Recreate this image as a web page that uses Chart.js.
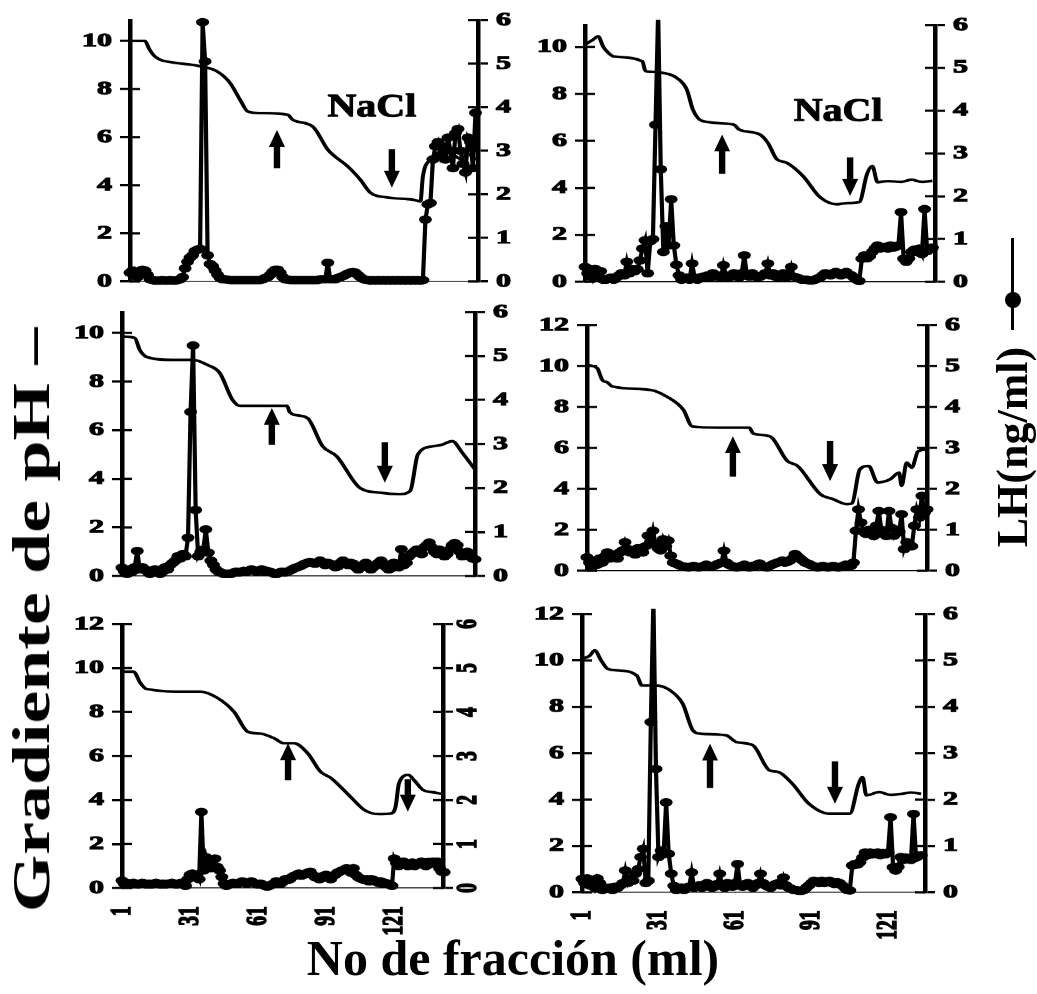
<!DOCTYPE html>
<html><head><meta charset="utf-8">
<script src="https://cdn.jsdelivr.net/npm/chart.js@4"></script>
<style>
html,body{margin:0;padding:0;background:#fff;width:1037px;height:994px;overflow:hidden;}
body{position:relative;}
canvas{position:absolute;transform-origin:0 0;}
.t{position:absolute;font-family:'Liberation Serif','Times New Roman',serif;font-weight:bold;color:#000;white-space:nowrap;line-height:1;}
</style></head><body>
<canvas id="c1"></canvas><canvas id="c2"></canvas><canvas id="c3"></canvas>
<canvas id="c4"></canvas><canvas id="c5"></canvas><canvas id="c6"></canvas>
<div class="t" style="left:32px;top:620px;font-size:52px;transform:translate(-50%,-50%) rotate(-90deg) scaleX(1.42);">Gradiente de pH –</div>
<div class="t" style="left:1013px;top:447px;font-size:44px;transform:translate(-50%,-50%) rotate(-90deg);">LH(ng/ml)</div>
<div style="position:absolute;left:1011px;top:238px;width:3px;height:92px;background:#000;"></div>
<div style="position:absolute;left:1005px;top:292px;width:16px;height:16px;border-radius:50%;background:#000;"></div>
<div class="t" style="left:513px;top:958px;font-size:50px;transform:translate(-50%,-50%);">No de fracción (ml)</div>
<script>
// ---------- data ----------
const fracTicks = [1, 31, 61, 91, 121];
const lhTicksMax = 6;

// pH gradient: [fraction, pH]
const ph1 = [[1,10.0],[7,10.0],[8.5,9.7],[10.5,9.4],[13,9.22],[16,9.14],[30,8.93],[36,8.72],[41,8.25],[45,7.55],[48,7.07],[53,7.0],[64,6.93],[66,6.72],[74,6.44],[80,5.48],[82,5.27],[88,4.78],[93,4.23],[97,3.69],[104,3.49],[114,3.40],[117,3.33],[118,4.37],[121,5.06],[124,5.2],[127,5.05],[130,5.25],[133,5.1],[136,5.3],[139,5.05]];
const ph2 = [[1,10.1],[4,10.3],[6,10.45],[8,10.0],[10,9.74],[12,9.59],[23,9.38],[24,9.0],[25,8.95],[30,8.91],[36,8.69],[40,8.18],[42.3,7.33],[46,6.84],[58,6.69],[60,6.48],[68,6.27],[71,5.92],[74.5,5.21],[78,5.08],[84.5,4.5],[91,3.6],[97.5,3.3],[101,3.35],[106,3.39],[109,4.6],[111,4.93],[113,4.24],[117,4.29],[122,4.25],[126,4.35],[130,4.25],[134,4.3]];
const ph3 = [[1,9.85],[6,9.8],[8,9.3],[11,9.0],[21,8.89],[29,8.89],[34.5,8.69],[39.5,8.35],[44.5,7.25],[47.5,7.0],[66,7.0],[67,6.75],[68.5,6.64],[74,6.5],[80,5.34],[85.5,4.93],[94.5,3.64],[102.5,3.43],[110.5,3.37],[114.5,3.5],[117.5,5.0],[123.5,5.34],[127,5.4],[131,5.55],[135,5.07],[140,4.38]];
const ph4 = [[1,10.05],[5,9.9],[7,9.32],[9,9.2],[11,9.0],[26,8.83],[32.5,8.5],[39,7.86],[42.5,7.05],[53,6.99],[65,6.99],[66.5,6.7],[73,6.57],[80,5.36],[84,5.12],[93,3.74],[98,3.5],[103.5,3.25],[105.5,3.3],[108.5,4.95],[112,5.12],[115.5,4.31],[120.5,4.47],[124,4.79],[125,4.15],[127,5.28],[129,5.04],[131.5,5.84],[135,5.92]];
const ph5 = [[1,9.83],[6.1,9.83],[9.1,9.32],[11.7,9.05],[30,8.92],[35.6,8.92],[43.2,8.63],[50.4,8.01],[56.5,7.1],[62.1,7.02],[68.2,6.8],[72.2,6.58],[76.8,6.58],[82.9,6.12],[88.5,5.29],[93.1,5.0],[101.7,4.15],[107.8,3.55],[114,3.36],[119.6,3.39],[121.6,3.7],[123.1,4.76],[127.2,5.14],[129.7,4.91],[133.8,4.45],[138.4,4.35],[142.4,4.27]];
const ph6 = [[1,10.07],[4,10.2],[6,10.43],[8.5,10.0],[11,9.64],[15,9.57],[22.5,9.35],[24.5,8.92],[30,8.92],[35.5,8.71],[40.5,8.13],[44.5,6.98],[47.5,6.84],[57.5,6.77],[61.5,6.48],[68,6.34],[74.5,5.26],[78,5.19],[83.5,4.68],[90,3.82],[98,3.39],[106,3.39],[109.5,4.68],[111,4.97],[112.5,4.18],[117.5,4.32],[122,4.2],[126.5,4.25],[130,4.3],[134,4.25]];

// LH (ng/ml) per fraction, starting at fraction 1
const lh1 = [0.2,0.25,0.15,0.1,0.2,0.27,0.25,0.15,
 0.05,0.03,0.02,0.02,0.02,0.03,0.02,0.02,0.03,0.02,0.02,0.03,0.05,0.1,
 0.3,0.45,0.55,0.6,0.7,0.73,0.75,
 5.95,5.05,0.6,0.4,0.35,0.25,0.15,
 0.08,0.05,0.05,0.04,0.03,0.03,0.03,0.03,0.03,0.03,0.03,0.03,0.03,0.03,0.03,0.03,0.03,0.05,0.08,0.1,0.15,
 0.22,0.27,0.27,0.2,0.1,
 0.05,0.04,0.03,0.03,0.03,0.03,0.03,0.03,0.03,0.03,0.03,0.03,0.03,0.03,0.05,0.05,
 0.05,0.43,0.05,
 0.05,0.05,0.08,0.1,0.12,0.15,0.18,0.2,0.22,0.2,0.15,0.1,0.06,0.04,
 0.03,0.02,0.03,0.02,0.03,0.02,0.03,0.02,0.03,0.02,0.03,0.02,0.03,0.02,0.03,0.02,0.03,0.02,0.03,0.02,0.03,0.02,0.03,
 1.42,1.77,1.8,2.8,3.1,3.2,2.9,3.1,2.8,3.3,3.0,2.6,3.4,3.5,3.0,2.7,2.5,3.3,3.2,2.6,3.87];
const lh2 = [0.35,0.2,0.3,0.1,0.3,0.2,0.25,0.05,
 0.05,0.08,0.1,0.05,0.1,0.15,0.2,0.15,
 0.47,0.2,0.3,0.25,0.3,0.5,0.78,0.97,0.2,0.95,1.0,
 3.67,6.3,2.63,0.7,1.3,0.85,1.93,0.85,0.4,0.15,
 0.05,0.08,0.1,0.05,
 0.43,0.1,
 0.05,0.08,0.12,0.1,0.15,0.1,0.2,0.12,0.15,0.1,
 0.39,
 0.15,0.1,0.12,0.2,0.15,0.1,0.2,
 0.62,
 0.15,0.12,0.2,0.15,0.1,0.12,0.15,0.2,
 0.43,
 0.15,0.2,0.12,0.1,0.15,0.2,0.1,0.15,
 0.35,
 0.12,0.1,0.08,0.05,0.05,0.05,0.03,0.03,0.05,0.08,0.1,0.15,0.2,0.18,0.15,0.2,0.23,0.2,0.15,0.2,0.23,0.18,0.15,0.1,0.05,0.02,
 0.54,0.62,0.55,0.6,0.7,0.78,0.85,0.78,0.8,0.82,0.78,0.85,0.8,0.82,0.85,1.63,0.54,0.47,0.55,0.7,0.75,0.7,0.78,0.65,1.7,0.72,0.78,0.8];
const lh3 = [0.19,0.1,0.05,0.15,0.1,0.2,
 0.57,0.15,
 0.2,0.15,0.1,0.05,0.08,0.15,0.1,0.05,0.1,0.2,0.15,0.25,
 0.3,0.35,0.45,0.4,0.5,0.45,
 0.87,3.73,5.24,1.5,0.45,0.55,0.6,1.06,0.53,0.35,0.25,
 0.15,0.1,0.08,0.05,0.05,0.05,0.05,0.08,0.1,0.08,0.1,0.12,0.1,0.12,0.15,0.12,0.1,0.12,0.15,0.1,0.12,0.1,0.08,
 0.05,0.05,0.08,0.1,0.08,0.1,0.12,0.15,0.18,0.2,0.22,0.25,0.28,0.3,0.32,0.3,0.28,0.3,0.35,0.3,0.25,0.3,0.28,0.25,0.2,
 0.22,0.3,0.35,0.3,0.25,0.3,0.28,0.2,0.15,0.2,0.25,0.3,0.2,0.15,0.2,0.25,0.3,0.35,0.28,0.2,0.15,0.18,0.3,0.28,0.2,
 0.61,
 0.25,0.3,0.45,0.5,0.55,0.6,0.55,0.5,0.65,0.7,0.76,0.65,0.55,0.5,0.6,0.55,0.45,0.5,0.6,0.7,0.75,0.7,0.55,0.45,0.5,0.55,0.45,0.4,0.38];
const lh4 = [0.33,0.2,0.1,0.25,0.15,0.3,0.2,0.35,
 0.45,0.3,0.35,0.4,0.3,0.45,0.5,
 0.7,0.53,
 0.45,0.5,0.4,0.55,0.5,0.45,0.6,0.86,
 0.7,0.98,0.65,0.55,0.5,0.77,0.6,0.74,
 0.37,0.2,0.18,
 0.15,0.12,0.1,0.1,0.08,0.1,0.12,0.1,0.08,0.1,0.12,0.15,0.12,0.1,0.12,0.15,0.18,0.2,
 0.49,
 0.2,0.15,0.12,0.1,0.08,0.1,0.12,0.15,0.1,0.08,0.12,0.1,0.15,0.18,0.12,0.1,0.08,0.12,0.15,0.18,0.2,0.22,0.25,0.2,0.22,0.25,0.3,
 0.41,
 0.35,0.3,0.25,0.2,0.18,0.15,0.12,0.1,0.08,0.1,0.12,0.1,0.08,0.1,0.12,0.1,0.08,0.1,0.12,0.15,0.1,0.12,0.2,
 0.98,1.5,1.18,0.95,0.9,1.0,0.95,0.85,1.1,1.46,1.0,0.9,0.85,1.46,1.05,0.86,1.0,0.95,1.38,0.53,0.7,0.65,0.6,1.1,1.5,1.3,1.83,1.42,1.5];
const lh5 = [0.17,0.1,0.12,0.1,0.08,0.12,0.1,0.08,0.1,0.12,0.1,0.08,0.1,0.08,0.1,0.12,0.1,0.08,0.1,0.08,0.1,0.1,0.12,0.1,0.08,0.1,0.12,0.1,0.05,0.2,0.3,0.33,0.25,
 0.3,0.2,1.73,0.4,0.7,0.5,0.45,0.64,0.67,0.48,0.4,0.25,0.1,
 0.05,0.08,0.1,0.12,0.1,0.1,0.12,0.15,0.12,0.1,0.12,0.15,0.12,0.1,0.08,0.1,0.08,0.05,0.03,0.05,0.08,0.1,0.15,0.12,0.1,0.15,0.2,0.18,0.2,0.25,0.28,0.3,0.33,0.28,0.3,
 0.33,0.35,0.37,0.3,0.25,0.25,0.2,0.22,0.28,0.3,0.25,0.2,0.28,0.3,0.35,0.37,0.4,0.42,0.45,0.4,0.35,
 0.45,0.3,0.25,0.22,0.2,0.18,0.2,0.15,0.2,0.18,0.15,0.12,0.15,0.1,0.12,0.1,0.08,0.05,
 0.67,0.56,0.5,0.55,0.6,0.56,0.5,0.55,0.58,0.5,0.55,0.55,0.6,0.55,0.5,0.59,0.55,0.6,0.56,0.6,0.45,0.37,0.36];
const lh6 = [0.29,0.2,0.3,0.15,0.25,0.1,0.3,0.2,
 0.05,0.1,0.08,0.1,0.05,0.12,0.1,0.15,0.2,
 0.47,0.2,0.3,0.25,0.4,0.5,0.76,0.94,0.2,0.25,
 3.67,6.3,2.66,0.76,0.9,0.83,1.94,0.83,0.4,0.14,
 0.05,0.08,0.1,0.05,0.1,0.12,
 0.43,
 0.1,0.12,0.15,0.1,0.12,0.2,0.15,0.1,0.12,0.18,
 0.4,
 0.15,0.1,0.2,0.15,0.12,0.2,
 0.61,
 0.15,0.12,0.18,0.2,0.15,0.1,0.15,0.2,
 0.4,
 0.2,0.15,0.12,0.1,0.15,0.18,0.2,0.15,
 0.32,
 0.15,0.1,0.08,0.05,0.05,0.03,0.03,0.05,0.1,0.15,0.2,0.25,0.22,0.2,0.25,0.2,0.22,0.25,0.2,0.18,0.22,0.2,0.15,0.1,0.05,0.04,
 0.58,0.61,0.6,0.65,0.75,0.86,0.8,0.86,0.82,0.85,0.86,0.8,0.85,0.82,0.86,1.62,0.54,0.47,0.55,0.76,0.7,0.75,0.72,0.7,1.69,0.75,0.79,0.8];

// ---------- layout ----------
const S = 0.65;          // vertical squash of the scanned panels
const SIDE = 80, PADTOP = 22;
const FONT = "'Liberation Serif','Times New Roman',serif";
const panels = [
 {id:'c1', L:130, R:478, T:20,  B:282, xMax:140,   yMax:10.87, ph:ph1, lh:lh1, xLabels:false, rotRight:false,
  arrows:[{x:59.7, from:4.7, to:6.3},{x:105.6, from:5.5, to:3.9}], label:{x:97.6, y:7.22, text:'NaCl'}},
 {id:'c2', L:585, R:935, T:25,  B:283, xMax:135,   yMax:10.93, ph:ph2, lh:lh2, xLabels:false, rotRight:false,
  arrows:[{x:53.5, from:4.6, to:6.27},{x:102.5, from:5.3, to:3.66}], label:{x:97.9, y:7.22, text:'NaCl'}},
 {id:'c3', L:122, R:475, T:312, B:577, xMax:140,   yMax:10.86, ph:ph3, lh:lh3, xLabels:false, rotRight:false,
  arrows:[{x:60, from:5.4, to:6.91},{x:104.5, from:5.5, to:3.84}]},
 {id:'c4', L:587, R:927, T:325, B:572, xMax:135,   yMax:12,    ph:ph4, lh:lh4, xLabels:false, rotRight:false,
  arrows:[{x:58.5, from:4.6, to:6.57},{x:96.8, from:6.35, to:4.38}]},
 {id:'c5', L:122, R:443, T:624, B:888, xMax:142.5, yMax:12,    ph:ph5, lh:lh5, xLabels:true,  rotRight:true,
  arrows:[{x:74.2, from:4.9, to:6.58},{x:127, from:4.95, to:3.47}]},
 {id:'c6', L:582, R:925, T:614, B:892, xMax:135.5, yMax:12,    ph:ph6, lh:lh6, xLabels:true,  rotRight:false,
  arrows:[{x:51.2, from:4.5, to:6.41},{x:100.2, from:5.65, to:3.82}]}
];

const deco = {
  id:'deco',
  afterDatasetsDraw(chart, args, opts){
    const ctx = chart.ctx, xs = chart.scales.x, ys = chart.scales.y;
    ctx.save();
    ctx.fillStyle = '#000'; ctx.strokeStyle = '#000';
    (opts.arrows||[]).forEach(a=>{
      const px = xs.getPixelForValue(a.x), p1 = ys.getPixelForValue(a.from), p2 = ys.getPixelForValue(a.to);
      const dir = Math.sign(p2-p1), hl = 26, hh = 8, sh = 3.2;
      const hb = p2 - dir*hl;
      ctx.beginPath();
      ctx.moveTo(px-sh,p1); ctx.lineTo(px+sh,p1); ctx.lineTo(px+sh,hb); ctx.lineTo(px+hh,hb);
      ctx.lineTo(px,p2); ctx.lineTo(px-hh,hb); ctx.lineTo(px-sh,hb); ctx.closePath(); ctx.fill();
    });
    if (opts.label){
      const px = xs.getPixelForValue(opts.label.x), py = ys.getPixelForValue(opts.label.y);
      ctx.translate(px,py); ctx.scale(1,1.25);
      ctx.font = "bold 40px "+FONT; ctx.textAlign='center'; ctx.textBaseline='middle';
      ctx.lineWidth = 1.2; ctx.lineJoin = 'round';
      ctx.fillText(opts.label.text,0,0); ctx.strokeText(opts.label.text,0,0);
    }
    ctx.restore();
  },
  afterDraw(chart){
    const ctx = chart.ctx, ca = chart.chartArea;
    ctx.save(); ctx.strokeStyle='#000'; ctx.lineWidth=3.5;
    [['y',1,ca.left],['y1',-1,ca.right]].forEach(([id,dir,ax])=>{
      const sc = chart.scales[id];
      sc.ticks.forEach(t=>{
        const py = sc.getPixelForValue(t.value);
        ctx.beginPath(); ctx.moveTo(ax,py); ctx.lineTo(ax+dir*10,py); ctx.stroke();
      });
    });
    ctx.restore();
  }
};

panels.forEach(p=>{
  const bottom = p.xLabels ? 52 : 16;
  const cw = (p.R-p.L) + 2*SIDE;
  const screenH = (p.B-p.T) + PADTOP + bottom;
  const ch = Math.round(screenH / S);
  const cv = document.getElementById(p.id);
  cv.width = cw; cv.height = ch;
  cv.style.width = cw+'px'; cv.style.height = ch+'px';
  cv.style.left = (p.L-SIDE)+'px'; cv.style.top = (p.T-PADTOP)+'px';
  cv.style.transform = 'scaleY('+S+')';
  const tickFont = {family:FONT, size:30, weight:'bold'};
  const tickStroke = {textStrokeWidth:1.6, textStrokeColor:'#000'};
  const yCommon = {
    min:0,
    afterFit(s){ s.width = SIDE; },
    grid:{drawOnChartArea:false, drawTicks:true, tickLength:10, lineWidth:3.5, color:'#000'},
    border:{display:true, width:4.5, color:'#000'}
  };
  new Chart(cv, {
    type:'line',
    data:{datasets:[
      {label:'pH', data:p.ph.map(([x,y])=>({x,y})), yAxisID:'y', borderColor:'#000', borderWidth:4,
       pointRadius:0, cubicInterpolationMode:'monotone', fill:false},
      {label:'LH', data:p.lh.map((v,i)=>({x:i+1,y:v})), yAxisID:'y1', borderColor:'#000', borderWidth:4.2,
       pointRadius:6.5, pointBackgroundColor:'#000', pointBorderColor:'#000', pointBorderWidth:0, tension:0, fill:false,
       clip:{left:10, right:10, top:8, bottom:12}}
    ]},
    options:{
      responsive:false, animation:false, devicePixelRatio:1, events:[],
      layout:{padding:{top:PADTOP/S, left:0, right:0, bottom:0}},
      plugins:{legend:{display:false}, tooltip:{enabled:false}, deco:{arrows:p.arrows, label:p.label}},
      scales:{
        x:{type:'linear', min:1, max:p.xMax,
           afterFit(s){ s.height = bottom/S; },
           afterBuildTicks(s){ s.ticks = fracTicks.map(v=>({value:v})); },
           grid:{display:false, drawTicks:false},
           border:{display:true, color:'#000', width:1.5},
           ticks:Object.assign({display:p.xLabels, autoSkip:false, minRotation:90, maxRotation:90, padding:28, font:tickFont, color:'#000'}, tickStroke)},
        y:Object.assign({}, yCommon, {position:'left', max:p.yMax,
           ticks:Object.assign({stepSize:2, includeBounds:false, padding:8, font:tickFont, color:'#000'}, tickStroke)}),
        y1:Object.assign({}, yCommon, {position:'right', max:lhTicksMax,
           ticks:Object.assign({stepSize:1, includeBounds:false, padding:8, font:tickFont, color:'#000',
                  minRotation:p.rotRight?90:0, crossAlign:p.rotRight?'center':'near'}, tickStroke)})
      }
    },
    plugins:[deco]
  });
});
</script>
</body></html>
